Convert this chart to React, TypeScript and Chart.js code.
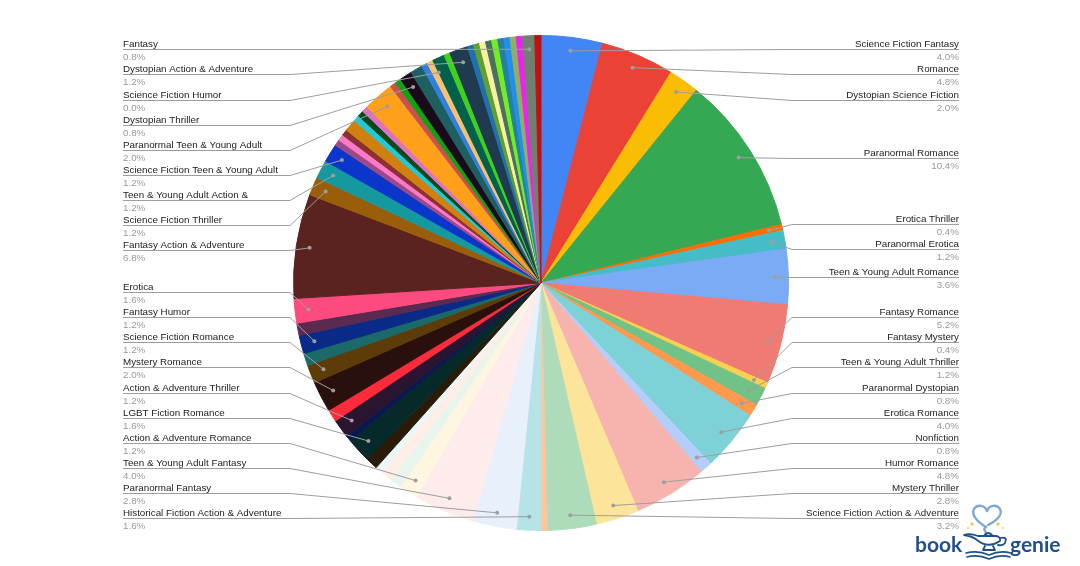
import React, { useEffect, useRef } from "react";
import { Chart, registerables } from "chart.js";

Chart.register(...registerables);

// Slices in clockwise order from 12 o'clock. Empty names = unlabeled slices.
const categories: string[] = [
  "Science Fiction Fantasy",
  "Romance",
  "Dystopian Science Fiction",
  "Paranormal Romance",
  "Erotica Thriller",
  "Paranormal Erotica",
  "Teen & Young Adult Romance",
  "Fantasy Romance",
  "Fantasy Mystery",
  "Teen & Young Adult Thriller",
  "Paranormal Dystopian",
  "Erotica Romance",
  "Nonfiction",
  "Humor Romance",
  "Mystery Thriller",
  "Science Fiction Action & Adventure",
  "",
  "Historical Fiction Action & Adventure",
  "Paranormal Fantasy",
  "Teen & Young Adult Fantasy",
  "Action & Adventure Romance",
  "",
  "",
  "",
  "",
  "LGBT Fiction Romance",
  "",
  "Action & Adventure Thriller",
  "",
  "Mystery Romance",
  "Science Fiction Romance",
  "",
  "Fantasy Humor",
  "",
  "Erotica",
  "Fantasy Action & Adventure",
  "Science Fiction Thriller",
  "Teen & Young Adult Action &",
  "Science Fiction Teen & Young Adult",
  "",
  "",
  "",
  "",
  "",
  "",
  "",
  "Paranormal Teen & Young Adult",
  "",
  "",
  "Dystopian Thriller",
  "",
  "",
  "",
  "Science Fiction Humor",
  "",
  "",
  "Dystopian Action & Adventure",
  "",
  "",
  "",
  "",
  "",
  "",
  "",
  "",
  "",
  "Fantasy",
  "",
];

const shares: number[] = [
  4.0, 4.8, 2.0, 10.4, 0.4, 1.2, 3.6, 5.2, 0.4, 1.2, 0.8, 4.0, 0.8, 4.8, 2.8, 3.2,
  0.4, 1.6, 2.8, 4.0, 1.2, 0.8, 0.8, 0.4, 0.8, 1.6, 0.4, 1.2, 0.8, 2.0, 1.2, 0.8,
  1.2, 0.8, 1.6, 6.8, 1.2, 1.2, 1.2, 0.4, 0.4, 0.4, 0.8, 0.4, 0.4, 0.4, 2.0, 0.4,
  0.4, 0.8, 0.8, 0.4, 0.4, 0.0, 0.8, 0.4, 1.2, 0.4, 0.4, 0.4, 0.4, 0.4, 0.4, 0.4,
  0.4, 0.4, 0.8, 0.4,
];

const sliceColors: string[] = [
  "#4285F4", "#EA4335", "#FBBC04", "#34A853", "#FF6D01", "#46BDC6", "#7BAAF7", "#F07B72",
  "#FCD04F", "#71C287", "#FF994D", "#7ED1D7", "#B3CEFB", "#F7B4AE", "#FDE49B", "#AEDCBA",
  "#FFC599", "#B5E3E6", "#E8F0FC", "#FDECEB", "#FEF6E1", "#E8F5EC", "#FEEEE5", "#E9F7F8",
  "#2A1A08", "#062A2A", "#0A1850", "#2A1430", "#FF2A3A", "#2A100C", "#5E3C0A", "#1A6A6A",
  "#0A2A88", "#5A2A50", "#FF4A80", "#5A2320", "#9A5E0A", "#16999E", "#0A36CC", "#9A4A8A",
  "#FF78C8", "#8A3030", "#D0800F", "#20C8D8", "#0A4A1A", "#E070C0", "#FFA01A", "#C85050",
  "#10A010", "#1A0A1A", "#1E6060", "#3080E0", "#F8C070", "#999999", "#00604A", "#40D020",
  "#203A50", "#2070B0", "#60A030", "#F8F0A0", "#4A7060", "#70F020", "#2880A0", "#2090F0",
  "#90B060", "#F020F0", "#708070", "#C01010",
];

const ROW_GAP = 25.1;
const LEFT_TEXT_X = 123;
const RIGHT_TEXT_X = 959;

type Item = { name: string; pct: string; px: number; py: number; anchor: number; y: number };
type Cluster = { start: number; n: number; sum: number; top: number };

function spread(items: Item[], minY: number, maxY: number, gap: number) {
  items.sort((a, b) => a.anchor - b.anchor);
  const place = (c: Cluster) => {
    let t = c.sum / c.n - ((c.n - 1) * gap) / 2;
    t = Math.min(t, maxY - (c.n - 1) * gap);
    t = Math.max(t, minY);
    c.top = t;
  };
  const clusters: Cluster[] = items.map((it, i) => ({ start: i, n: 1, sum: it.anchor, top: 0 }));
  clusters.forEach(place);
  let merged = true;
  while (merged) {
    merged = false;
    for (let k = 0; k < clusters.length - 1; k++) {
      const a = clusters[k];
      const b = clusters[k + 1];
      if (a.top + a.n * gap > b.top + 0.01) {
        const c: Cluster = { start: a.start, n: a.n + b.n, sum: a.sum + b.sum, top: 0 };
        place(c);
        clusters.splice(k, 2, c);
        merged = true;
        break;
      }
    }
  }
  clusters.forEach((c) => {
    for (let j = 0; j < c.n; j++) items[c.start + j].y = c.top + j * gap;
  });
}

const sideLabels = {
  id: "sideLabels",
  afterDatasetsDraw(chart: any) {
    const meta = chart.getDatasetMeta(0);
    const data = chart.data.datasets[0].data as number[];
    const total = data.reduce((a, b) => a + b, 0);
    const left: Item[] = [];
    const right: Item[] = [];
    let cx = 0;
    let R = 0;
    meta.data.forEach((arc: any, i: number) => {
      cx = arc.x;
      R = arc.outerRadius;
      const name = chart.data.labels[i] as string;
      if (!name) return;
      const mid = (arc.startAngle + arc.endAngle) / 2;
      const rd = arc.outerRadius - 13.5;
      const px = arc.x + Math.cos(mid) * rd;
      const py = arc.y + Math.sin(mid) * rd;
      const item: Item = {
        name,
        pct: ((data[i] / total) * 100).toFixed(1) + "%",
        px,
        py,
        anchor: py,
        y: py,
      };
      (Math.cos(mid) > 0 ? right : left).push(item);
    });
    const area = chart.chartArea;
    const minY = area.top + 14.3;
    const maxY = area.bottom - 13;
    spread(left, minY, maxY, ROW_GAP);
    spread(right, minY, maxY, ROW_GAP);

    const ctx: CanvasRenderingContext2D = chart.ctx;
    ctx.save();
    const draw = (items: Item[], isRight: boolean) => {
      const ex = isRight ? cx + R + 3.5 : cx - R - 3.5;
      const tx = isRight ? RIGHT_TEXT_X : LEFT_TEXT_X;
      items.forEach((it) => {
        const ly = Math.round(it.y) + 0.5;
        ctx.strokeStyle = "#9e9e9e";
        ctx.lineWidth = 1;
        ctx.beginPath();
        ctx.moveTo(it.px, it.py);
        ctx.lineTo(ex, ly);
        ctx.lineTo(tx, ly);
        ctx.stroke();
        ctx.fillStyle = "#9e9e9e";
        ctx.beginPath();
        ctx.arc(it.px, it.py, 2, 0, Math.PI * 2);
        ctx.fill();
        ctx.textAlign = isRight ? "right" : "left";
        ctx.textBaseline = "alphabetic";
        ctx.font = "9.8px 'Liberation Sans', Arial, sans-serif";
        ctx.fillStyle = "#222222";
        ctx.fillText(it.name, tx, ly - 2.6);
        ctx.fillStyle = "#9a9a9a";
        ctx.fillText(it.pct, tx, ly + 10.2);
      });
    };
    draw(left, false);
    draw(right, true);
    ctx.restore();
  },
};

const logo = {
  id: "logo",
  afterDraw(chart: any) {
    const ctx: CanvasRenderingContext2D = chart.ctx;
    ctx.save();
    ctx.lineCap = "round";
    ctx.lineJoin = "round";
    // heart of smoke
    ctx.strokeStyle = "#7ea9d4";
    ctx.lineWidth = 2.4;
    ctx.beginPath();
    ctx.moveTo(986, 527);
    ctx.bezierCurveTo(976, 521, 971, 514, 974, 509);
    ctx.bezierCurveTo(977, 504, 985, 505, 987, 511);
    ctx.bezierCurveTo(989, 505, 997, 504, 1000, 509);
    ctx.bezierCurveTo(1003, 515, 996, 521, 988, 525);
    ctx.stroke();
    ctx.beginPath();
    ctx.moveTo(986, 527);
    ctx.bezierCurveTo(981, 530, 989, 532, 985, 535);
    ctx.stroke();
    // sparkles
    ctx.fillStyle = "#f2c23a";
    const star = (sx: number, sy: number, s: number) => {
      ctx.beginPath();
      ctx.moveTo(sx, sy - s);
      ctx.lineTo(sx + s * 0.3, sy - s * 0.3);
      ctx.lineTo(sx + s, sy);
      ctx.lineTo(sx + s * 0.3, sy + s * 0.3);
      ctx.lineTo(sx, sy + s);
      ctx.lineTo(sx - s * 0.3, sy + s * 0.3);
      ctx.lineTo(sx - s, sy);
      ctx.lineTo(sx - s * 0.3, sy - s * 0.3);
      ctx.closePath();
      ctx.fill();
    };
    star(972, 524, 2.5);
    star(968, 528, 1.4);
    star(998, 524, 2.5);
    star(1003, 528, 1.4);
    // lamp
    ctx.strokeStyle = "#1f4f8f";
    ctx.fillStyle = "#ffffff";
    ctx.lineWidth = 1.8;
    ctx.beginPath();
    ctx.moveTo(964, 535);
    ctx.quadraticCurveTo(972, 536, 977, 540);
    ctx.quadraticCurveTo(988, 549, 1000, 541);
    ctx.quadraticCurveTo(1001, 537, 996, 536);
    ctx.lineTo(978, 536);
    ctx.quadraticCurveTo(970, 533, 964, 535);
    ctx.closePath();
    ctx.fill();
    ctx.stroke();
    ctx.beginPath();
    ctx.moveTo(984, 536);
    ctx.quadraticCurveTo(988, 530, 993, 536);
    ctx.stroke();
    ctx.beginPath();
    ctx.moveTo(1000, 538);
    ctx.quadraticCurveTo(1008, 536, 1005, 543);
    ctx.quadraticCurveTo(1003, 546, 998, 545);
    ctx.stroke();
    ctx.beginPath();
    ctx.moveTo(985, 546);
    ctx.lineTo(983, 550);
    ctx.lineTo(995, 550);
    ctx.lineTo(993, 546);
    ctx.stroke();
    // open book
    ctx.lineWidth = 1.6;
    ctx.beginPath();
    ctx.moveTo(966, 553);
    ctx.quadraticCurveTo(978, 550, 989, 555);
    ctx.quadraticCurveTo(1000, 550, 1011, 553);
    ctx.stroke();
    ctx.beginPath();
    ctx.moveTo(967, 557);
    ctx.quadraticCurveTo(978, 554, 989, 559);
    ctx.quadraticCurveTo(1000, 554, 1010, 557);
    ctx.stroke();
    // brand text
    ctx.fillStyle = "#1f4f8f";
    ctx.font = "700 21px Lato, 'Open Sans', sans-serif";
    ctx.textAlign = "left";
    ctx.textBaseline = "alphabetic";
    ctx.fillText("book", 915, 552);
    ctx.fillText("genie", 1010, 552);
    ctx.restore();
  },
};

export default function App() {
  const ref = useRef<HTMLCanvasElement>(null);
  useEffect(() => {
    if (!ref.current) return;
    const chart = new Chart(ref.current, {
      type: "pie",
      data: {
        labels: categories,
        datasets: [
          {
            data: shares,
            backgroundColor: sliceColors,
            borderColor: sliceColors,
            borderWidth: (c: any) => (shares[c.dataIndex] > 0 ? 1 : 0),
            hoverOffset: 0,
          } as any,
        ],
      },
      options: {
        animation: false,
        responsive: true,
        maintainAspectRatio: false,
        events: [],
        layout: { padding: { top: 35, bottom: 35, left: 293, right: 291 } },
        plugins: { legend: { display: false }, tooltip: { enabled: false } },
      },
      plugins: [sideLabels, logo],
    });
    return () => chart.destroy();
  }, []);
  return (
    <div
      style={{
        position: "fixed",
        left: 0,
        top: 0,
        width: 1080,
        height: 566,
        background: "#ffffff",
      }}
    >
      <canvas ref={ref} />
    </div>
  );
}
